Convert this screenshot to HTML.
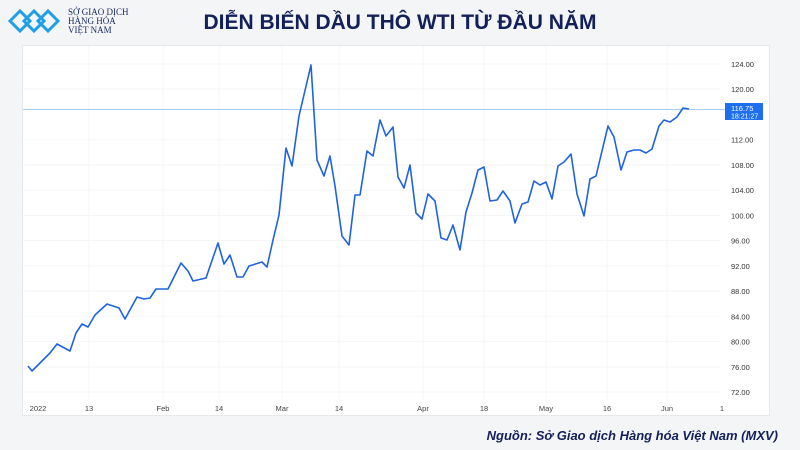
<!DOCTYPE html>
<html><head><meta charset="utf-8"><style>
body{margin:0;width:800px;height:450px;overflow:hidden;background:#f4f5f7;font-family:"Liberation Sans",sans-serif;position:relative}
.card{position:absolute;left:22px;top:45px;width:746px;height:369px;background:#fff;border:1px solid #e6e8ec}
.title{position:absolute;left:0;width:800px;top:11px;text-align:center;font-weight:bold;font-size:21px;color:#13205a;letter-spacing:0px}
.logo{position:absolute;left:68px;top:8px;font-size:9px;line-height:9px;color:#1a2a6a;font-family:"Liberation Serif",serif}
.src{position:absolute;right:22px;top:428px;font-size:13px;font-weight:bold;font-style:italic;color:#13205a}
</style></head><body>
<svg style="position:absolute;left:8px;top:8px" width="56" height="26" viewBox="0 0 56 26">
<g fill="none" stroke="#1fa0e6" stroke-width="3">
<path d="M2 13 L12 3 L22 13 L12 23 Z"/><path d="M16 13 L26 3 L36 13 L26 23 Z"/><path d="M30 13 L40 3 L50 13 L40 23 Z"/>
</g></svg>
<div class="logo">SỞ GIAO DỊCH<br>HÀNG HÓA<br>VIỆT NAM</div>
<div class="title">DIỄN BIẾN DẦU THÔ WTI TỪ ĐẦU NĂM</div>
<div class="card"></div>
<svg style="position:absolute;left:0;top:0" width="800" height="450">
<g stroke="#f4f5f8" stroke-width="1">
<line x1="89" y1="46" x2="89" y2="400"/><line x1="163" y1="46" x2="163" y2="400"/><line x1="219" y1="46" x2="219" y2="400"/><line x1="282" y1="46" x2="282" y2="400"/><line x1="339" y1="46" x2="339" y2="400"/><line x1="423" y1="46" x2="423" y2="400"/><line x1="484" y1="46" x2="484" y2="400"/><line x1="546" y1="46" x2="546" y2="400"/><line x1="607" y1="46" x2="607" y2="400"/><line x1="667" y1="46" x2="667" y2="400"/>
<line x1="23" y1="64" x2="720" y2="64"/><line x1="23" y1="89" x2="720" y2="89"/><line x1="23" y1="139.7" x2="720" y2="139.7"/><line x1="23" y1="165" x2="720" y2="165"/><line x1="23" y1="190" x2="720" y2="190"/><line x1="23" y1="215.4" x2="720" y2="215.4"/><line x1="23" y1="240.6" x2="720" y2="240.6"/><line x1="23" y1="266" x2="720" y2="266"/><line x1="23" y1="291" x2="720" y2="291"/><line x1="23" y1="316.3" x2="720" y2="316.3"/><line x1="23" y1="341.6" x2="720" y2="341.6"/><line x1="23" y1="367" x2="720" y2="367"/><line x1="23" y1="392" x2="720" y2="392"/>
</g>
<line x1="23" y1="109.5" x2="725" y2="109.5" stroke="#a9cdf5" stroke-width="1"/>
<polyline fill="none" stroke="#1e63e0" stroke-width="1.6" stroke-linejoin="round" points="28,366 32,371 50,353 57,344 70,351 76,333 82,324 88,327 95,315 107,304 119,308 125,319 137,297 144,299 150,298 156,289 168,289 181,263 188,271 193,281 206,278 218,243 224,264 230,255 237,277 243,277 249,266 262,262 267,267 273,240 279,215 286,148 292,166 299,116 311,65 317,160 324,176 330,156 335,186 342,236 349,245 355,195 360,195 367,151 373,156 380,120 386,136 393,127 398,177 404,188 410,165 416,213 422,219 428,194 435,201 441,238 447,240 453,225 460,250 466,212 472,193 478,170 484,167 490,201 497,200 503,191 510,201 515,223 522,204 528,202 534,181 540,185 546,182 552,199 558,166 564,162 571,154 577,194 584,216 590,179 596,176 608,126 614,137 621,170 627,152 634,150 640,150 646,153 652,149 659,126 664,120 670,122 677,117 683,108 689,109"/>
<g font-size="7.5" fill="#333" font-family="Liberation Sans,sans-serif">
<text x="731" y="67">124.00</text><text x="731" y="92">120.00</text><text x="731" y="142.7">112.00</text><text x="731" y="168">108.00</text><text x="731" y="193">104.00</text><text x="731" y="218.4">100.00</text><text x="731" y="243.6">96.00</text><text x="731" y="269">92.00</text><text x="731" y="294">88.00</text><text x="731" y="319.3">84.00</text><text x="731" y="344.6">80.00</text><text x="731" y="370">76.00</text><text x="731" y="395">72.00</text>
</g>
<rect x="725" y="103" width="38" height="17" fill="#1e6ff0"/>
<text x="731" y="111" font-size="7.5" fill="#fff">116.75</text><text x="731" y="118.5" font-size="7" fill="#fff">18:21:27</text>
<g font-size="7.5" fill="#444" text-anchor="middle">
<text x="38" y="411">2022</text><text x="89" y="411">13</text><text x="163" y="411">Feb</text><text x="219" y="411">14</text><text x="282" y="411">Mar</text><text x="339" y="411">14</text><text x="423" y="411">Apr</text><text x="484" y="411">18</text><text x="546" y="411">May</text><text x="607" y="411">16</text><text x="667" y="411">Jun</text><text x="722" y="411">1</text>
</g>
</svg>
<div class="src">Nguồn: Sở Giao dịch Hàng hóa Việt Nam (MXV)</div>
</body></html>
